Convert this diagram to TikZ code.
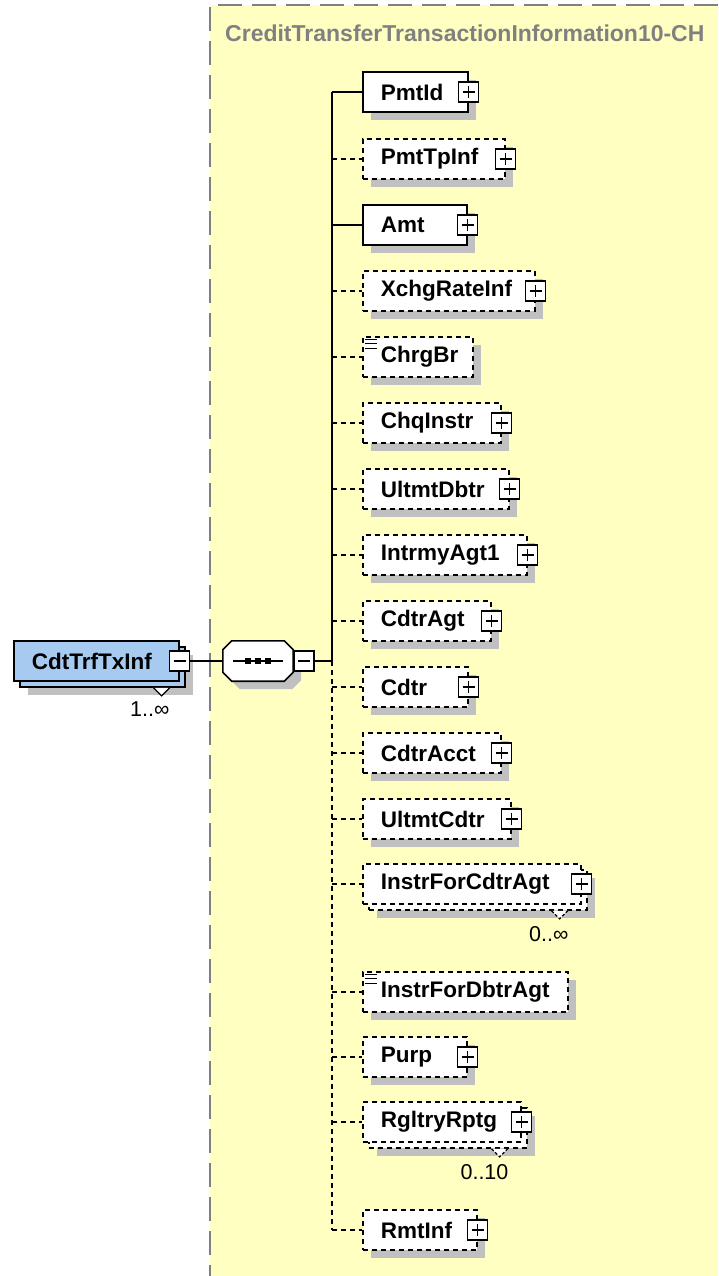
\documentclass[tikz,border=0pt]{standalone}
\usepackage{fontspec}
\setmainfont{Liberation Sans}
\usetikzlibrary{calc,shadows}

\definecolor{diagyellow}{RGB}{255,255,194}
\definecolor{elemblue}{RGB}{166,202,240}
\definecolor{shadowgray}{RGB}{192,192,192}
\definecolor{framegray}{RGB}{128,128,128}

\tikzset{
  box/.style={draw, fill=white, line width=1.6pt, anchor=west, minimum height=40pt,
    inner xsep=0pt, inner ysep=0pt, text width=#1pt, align=left,
    execute at begin node=\hspace*{18pt}, font=\fontsize{22.5}{26}\selectfont\bfseries},
  opt/.style={box=#1, dash pattern=on 5pt off 4pt},
  main/.style={box=#1, fill=elemblue},
  shd/.style={drop shadow={shadow xshift=8pt, shadow yshift=-8pt, fill=shadowgray, opacity=1}},
  xbox/.style={draw, solid, fill=white, line width=1.3pt, minimum size=20pt, inner sep=0pt},
  plus/.style={xbox, path picture={
    \draw[line width=1.3pt] ([xshift=-6pt]path picture bounding box.center) -- ([xshift=6pt]path picture bounding box.center)
      ([yshift=-6pt]path picture bounding box.center) -- ([yshift=6pt]path picture bounding box.center);}},
  minus/.style={xbox, path picture={
    \draw[line width=1.3pt] ([xshift=-6pt]path picture bounding box.center) -- ([xshift=6pt]path picture bounding box.center);}},
  seqbox/.style={rectangle, minimum width=70pt, minimum height=40pt, inner sep=0pt},
  link/.style={line width=1.6pt},
  optlink/.style={line width=1.6pt, dash pattern=on 5pt off 4pt},
  mult/.style={anchor=east, inner sep=0pt, font=\fontsize{21.5}{25}\selectfont},
  vmark/.style={line width=1.2pt, fill=white}
}

\begin{document}
\begin{tikzpicture}[x=1pt,y=-1pt]
  \useasboundingbox (0,0) rectangle (718,1276);
  \fill[white] (0,0) rectangle (718,1276);

  % content model frame
  \fill[diagyellow] (210,5) rectangle (718,1276);
  \draw[framegray, line width=1.5pt, dash pattern=on 24pt off 10pt] (718,5) -- (210,5) -- (210,1276);
  \node[anchor=west, inner sep=0pt, text=framegray, font=\fontsize{23}{27}\selectfont\bfseries] (title) at (225,33)
    {CreditTransferTransactionInformation10-CH};

  % CdtTrfTxInf and the sequence
  \node[main=165, shd] (cdt-b) at (19,667) {};
  \node[main=165] (cdt) at (13,661) {CdtTrfTxInf};
  \node[minus] (cdt-x) at (cdt.east) {};
  \draw[vmark] ([xshift=-32pt]cdt-b.south east) -- ++(8,8) -- ++(8,-8);
  \node[mult] (cdt-m) at ([shift={(-16,21)}]cdt-b.south east) {1..∞};

  \node[seqbox] (seq) at (258,661) {};
  \draw[line width=1.6pt, fill=white, shd] ([shift={(9,0)}]seq.north west) -- ([shift={(-9,0)}]seq.north east)
    -- ([shift={(0,9)}]seq.north east) -- ([shift={(0,-9)}]seq.south east)
    -- ([shift={(-9,0)}]seq.south east) -- ([shift={(9,0)}]seq.south west)
    -- ([shift={(0,-9)}]seq.south west) -- ([shift={(0,9)}]seq.north west) -- cycle;
  \draw[line width=1.6pt] ([xshift=-25pt]seq.center) -- ([xshift=25pt]seq.center);
  \foreach \d in {-10,0,10}
    \fill ([shift={(\d-3,-3)}]seq.center) rectangle ++(6,6);
  \node[minus, anchor=west] (seq-x) at (seq.east) {};
  \coordinate (spine) at (332,661);

  \draw[link] (cdt-x) -- (seq);
  \draw[link] (seq-x) -- (spine);

  % children
  \node[box=105, shd] (pmtid) at (362,92) {PmtId};
  \node[opt=142, shd] (pmttpinf) at (362,159) {PmtTpInf};
  \node[box=104, shd] (amt) at (362,225) {Amt};
  \node[opt=172, shd] (xchgrateinf) at (362,291) {XchgRateInf};
  \node[opt=110, shd] (chrgbr) at (362,357) {ChrgBr};
  \node[opt=138, shd] (chqinstr) at (362,423) {ChqInstr};
  \node[opt=146, shd] (ultmtdbtr) at (362,489) {UltmtDbtr};
  \node[opt=164, shd] (intrmyagt1) at (362,555) {IntrmyAgt1};
  \node[opt=128, shd] (cdtragt) at (362,621) {CdtrAgt};
  \node[opt=105, shd] (cdtr) at (362,687) {Cdtr};
  \node[opt=138, shd] (cdtracct) at (362,753) {CdtrAcct};
  \node[opt=148, shd] (ultmtcdtr) at (362,819) {UltmtCdtr};
  \node[opt=218, shd] (instrcdtr-b) at (368,890) {};
  \node[opt=218] (instrcdtr) at (362,884) {InstrForCdtrAgt};
  \node[opt=205, shd] (instrdbtr) at (362,992) {InstrForDbtrAgt};
  \node[opt=104, shd] (purp) at (362,1057) {Purp};
  \node[opt=158, shd] (rgltry-b) at (368,1128) {};
  \node[opt=158] (rgltry) at (362,1122) {RgltryRptg};
  \node[opt=114, shd] (rmtinf) at (362,1230) {RmtInf};

  \foreach \n in {pmtid,pmttpinf,amt,xchgrateinf,chqinstr,ultmtdbtr,intrmyagt1,cdtragt,
                  cdtr,cdtracct,ultmtcdtr,instrcdtr,purp,rgltry,rmtinf}
    \node[plus] (\n-x) at (\n.east) {};

  \foreach \n in {chrgbr,instrdbtr}
    \foreach \d in {3,7.5,12}
      \draw[line width=1pt] ([shift={(3,\d)}]\n.north west) -- ++(12,0);

  \draw[vmark, dash pattern=on 3pt off 2pt] ([xshift=-36pt]instrcdtr-b.south east) -- ++(8,8) -- ++(8,-8);
  \node[mult] (instrcdtr-m) at ([shift={(-19,23)}]instrcdtr-b.south east) {0..∞};
  \draw[vmark, dash pattern=on 3pt off 2pt] ([xshift=-36pt]rgltry-b.south east) -- ++(8,8) -- ++(8,-8);
  \node[mult] (rgltry-m) at ([shift={(-19,23)}]rgltry-b.south east) {0..10};

  % spine and branches
  \draw[link, line width=2pt] (pmtid.west -| spine) -- (spine);
  \draw[optlink, line width=2pt] (spine) -- (rmtinf.west -| spine);
  \foreach \n in {pmtid,amt}
    \draw[link] (\n.west -| spine) -- (\n.west);
  \foreach \n in {pmttpinf,xchgrateinf,chrgbr,chqinstr,ultmtdbtr,intrmyagt1,cdtragt,cdtr,
                  cdtracct,ultmtcdtr,instrcdtr,instrdbtr,purp,rgltry,rmtinf}
    \draw[optlink] (\n.west -| spine) -- (\n.west);
\end{tikzpicture}
\end{document}
